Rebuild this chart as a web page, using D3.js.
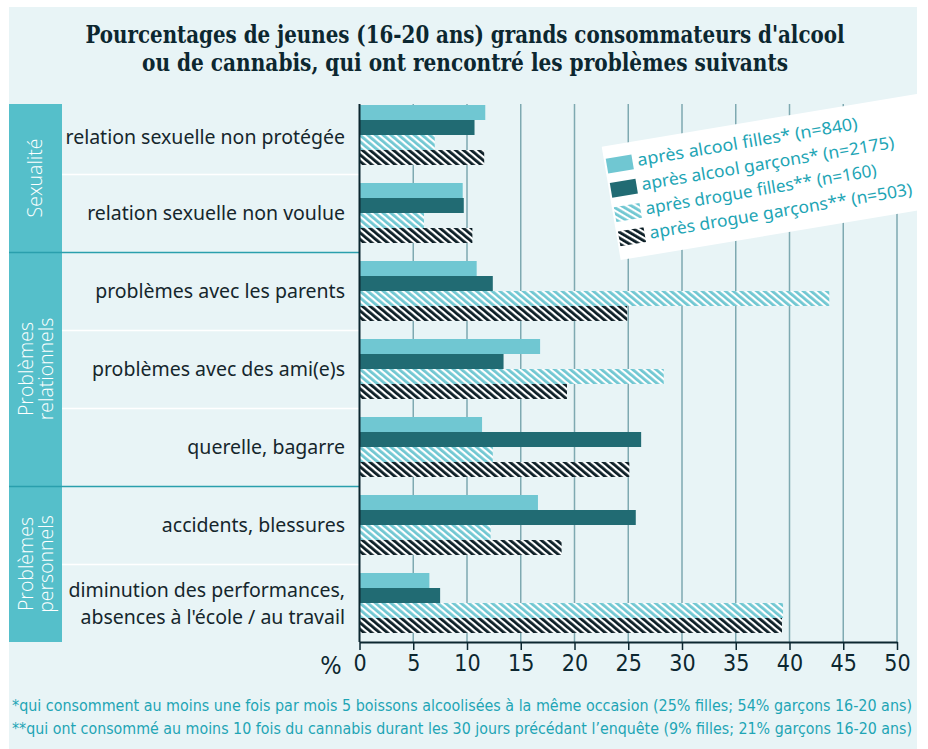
<!DOCTYPE html>
<html>
<head>
<meta charset="utf-8">
<script src="https://cdn.jsdelivr.net/npm/d3@7"></script>
<style>
  body { margin: 0; background: #ffffff; }
</style>
</head>
<body>
<script>
// base data
const categories = [
  'relation sexuelle non protégée',
  'relation sexuelle non voulue',
  'problèmes avec les parents',
  'problèmes avec des ami(e)s',
  'querelle, bagarre',
  'accidents, blessures',
  'diminution des performances,|absences à l\'école / au travail'
];
const categoryGroup = [0, 0, 1, 1, 1, 2, 2];
const groupLabels = [['Sexualité'], ['Problèmes', 'relationnels'], ['Problèmes', 'personnels']];

const series = ['alcoolFilles', 'alcoolGarcons', 'drogueFilles', 'drogueGarcons'];
const seriesLabels = [
  'après alcool filles*  (n=840)',
  'après alcool garçons*  (n=2175)',
  'après drogue filles**  (n=160)',
  'après drogue garçons**  (n=503)'
];
const alcoolFilles = [11.7, 9.6, 10.9, 16.8, 11.4, 16.6, 6.5];
const alcoolGarcons = [10.7, 9.7, 12.4, 13.4, 26.2, 25.7, 7.5];
const drogueFilles = [7.0, 6.0, 43.7, 28.3, 12.4, 12.2, 39.4];
const drogueGarcons = [11.6, 10.5, 24.9, 19.3, 25.1, 18.8, 39.3];
const values = { alcoolFilles, alcoolGarcons, drogueFilles, drogueGarcons };

const tickValues = [0, 5, 10, 15, 20, 25, 30, 35, 40, 45, 50];

const titleLines = [
  'Pourcentages de jeunes (16-20 ans) grands consommateurs d\'alcool',
  'ou de cannabis, qui ont rencontré les problèmes suivants'
];
const footnotes = [
  '*qui consomment au moins une fois par mois 5 boissons alcoolisées à la même occasion (25% filles; 54% garçons 16-20 ans)',
  '**qui ont consommé au moins 10 fois du cannabis durant les 30 jours précédant l\u2019enquête (9% filles; 21% garçons 16-20 ans)'
];

// constants
const width = 928;
const height = 749;
const plotTop = 104;
const plotBottom = 642;
const sideLeft = 9;
const sideRight = 62;

const colLight = '#70c7d2';
const colDark = '#216b73';
const colInk = '#0c2730';
const colTeal = '#1ea5b5';

// svg setting
const svg = d3.select('body').append('svg')
  .attr('width', width).attr('height', height);

// patterns for hatched bars
const defs = svg.append('defs');
const hatch = (id, color) => {
  const p = defs.append('pattern').attr('id', id)
    .attr('patternUnits', 'userSpaceOnUse')
    .attr('width', 5).attr('height', 10)
    .attr('patternTransform', 'rotate(-50)');
  p.append('rect').attr('width', 5).attr('height', 10).attr('fill', '#ffffff');
  p.append('rect').attr('width', 2.8).attr('height', 10).attr('fill', color);
};
hatch('hatchLight', colLight);
hatch('hatchDark', '#0b1d25');
const seriesFill = {
  alcoolFilles: colLight,
  alcoolGarcons: colDark,
  drogueFilles: 'url(#hatchLight)',
  drogueGarcons: 'url(#hatchDark)'
};

// background panel
svg.append('rect').attr('x', 9).attr('y', 7).attr('width', 908).attr('height', 742)
  .attr('fill', '#e8f4f6');

// scales
const xScale = d3.scaleLinear().domain([0, 50]).range([359.5, 897]);
const yScale = d3.scaleBand().domain(categories).range([96, 642]).padding(0);
const ySub = d3.scaleBand().domain(series).range([9, 69]).padding(0);

// title
svg.append('g').selectAll('text').data(titleLines).enter().append('text')
  .attr('x', 465).attr('y', (d, i) => 43 + i * 28)
  .attr('text-anchor', 'middle')
  .attr('font-family', '"DejaVu Serif Condensed", "Liberation Serif", serif')
  .attr('font-weight', 'bold').attr('font-size', 24)
  .attr('fill', colInk)
  .attr('textLength', (d, i) => i === 0 ? 759 : 646)
  .attr('lengthAdjust', 'spacingAndGlyphs')
  .text(d => d);

// side group boxes
svg.append('rect').attr('x', sideLeft).attr('y', plotTop)
  .attr('width', sideRight - sideLeft).attr('height', plotBottom - plotTop)
  .attr('fill', '#55bfca');

// row separators (white) and group separators (teal)
const rowSep = categories.slice(1).map((c, i) => ({ c, newGroup: categoryGroup[i + 1] !== categoryGroup[i] }));
svg.append('g').selectAll('line').data(rowSep).enter().append('line')
  .attr('x1', d => d.newGroup ? sideLeft : sideRight).attr('x2', xScale(0))
  .attr('y1', d => yScale(d.c) + 0.5).attr('y2', d => yScale(d.c) + 0.5)
  .attr('stroke', d => d.newGroup ? '#2a9fad' : '#ffffff')
  .attr('stroke-width', 1.5);

// group labels
groupLabels.forEach((lines, g) => {
  const rows = categories.filter((c, i) => categoryGroup[i] === g);
  const top = Math.max(plotTop, yScale(rows[0]));
  const bottom = yScale(rows[rows.length - 1]) + yScale.bandwidth();
  const cy = (top + bottom) / 2;
  const t = svg.append('text')
    .attr('transform', `translate(${lines.length === 1 ? 42 : 33}, ${cy}) rotate(-90)`)
    .attr('text-anchor', 'middle')
    .attr('font-family', '"Open Sans", "Noto Sans", sans-serif')
    .attr('font-weight', 300).attr('font-size', 19.5)
    .attr('fill', '#ffffff');
  lines.forEach((l, i) => {
    t.append('tspan').attr('x', 0).attr('y', i * 20).text(l);
  });
});

// category labels
const catLabel = svg.append('g').selectAll('text').data(categories).enter().append('text')
  .attr('text-anchor', 'end')
  .attr('font-family', '"Noto Sans", "Open Sans", sans-serif')
  .attr('font-size', 19.5)
  .attr('fill', '#15262c');
catLabel.each(function (d) {
  const parts = d.split('|');
  const cy = yScale(d) + yScale.bandwidth() / 2 + (d === categories[0] ? 2 : 0);
  parts.forEach((p, i) => {
    d3.select(this).append('tspan')
      .attr('x', 345)
      .attr('y', cy + 7 + (i - (parts.length - 1) / 2) * 27)
      .text(p);
  });
});

// gridlines
svg.append('g').selectAll('line').data(tickValues.slice(1)).enter().append('line')
  .attr('x1', d => xScale(d)).attr('x2', d => xScale(d))
  .attr('y1', plotTop).attr('y2', plotBottom)
  .attr('stroke', '#7ea9b1').attr('stroke-width', 1.5);

// draw bars
const rowG = svg.append('g').selectAll('g').data(categories).enter().append('g')
  .attr('transform', d => `translate(0, ${yScale(d)})`);
rowG.selectAll('rect').data((d, i) => series.map(s => ({ s, v: values[s][i] })))
  .enter().append('rect')
  .attr('x', xScale(0))
  .attr('y', d => ySub(d.s))
  .attr('width', d => xScale(d.v) - xScale(0))
  .attr('height', ySub.bandwidth())
  .attr('fill', d => seriesFill[d.s]);

// x axis
const xAxis = svg.append('g')
  .attr('transform', `translate(0, ${plotBottom})`)
  .call(d3.axisBottom(xScale).tickValues(tickValues).tickSize(8).tickPadding(5).tickSizeOuter(0));
xAxis.select('.domain').attr('stroke', colInk).attr('stroke-width', 2);
xAxis.selectAll('.tick line').attr('stroke', colInk).attr('stroke-width', 1.5);
xAxis.selectAll('.tick text')
  .attr('font-family', '"Liberation Sans Narrow", "DejaVu Sans Condensed", sans-serif')
  .attr('font-size', 23).attr('fill', colInk);

// y axis line
svg.append('line')
  .attr('x1', xScale(0)).attr('x2', xScale(0))
  .attr('y1', plotTop).attr('y2', plotBottom)
  .attr('stroke', colInk).attr('stroke-width', 2);

// percent sign
svg.append('text').attr('x', 331).attr('y', 674)
  .attr('text-anchor', 'middle')
  .attr('font-family', '"Liberation Sans Narrow", "DejaVu Sans Condensed", sans-serif')
  .attr('font-size', 25).attr('fill', colInk)
  .text('%');

// legend
const legend = svg.append('g').attr('transform', 'translate(601.7, 146.7) rotate(-9.5)');
legend.append('rect').attr('width', 330).attr('height', 115).attr('fill', '#ffffff');
const legItem = legend.selectAll('g').data(series).enter().append('g')
  .attr('transform', (d, i) => `translate(0, ${12.5 + i * 24.6})`);
legItem.append('rect').attr('x', 2).attr('width', 26).attr('height', 15)
  .attr('fill', d => seriesFill[d]);
legItem.append('text').attr('x', 33).attr('y', 12.5)
  .attr('font-family', '"Noto Sans", "Open Sans", sans-serif')
  .attr('font-size', 17).attr('fill', colTeal)
  .attr('textLength', (d, i) => [223, 256, 234, 266][i])
  .attr('lengthAdjust', 'spacingAndGlyphs')
  .text((d, i) => seriesLabels[i]);

// footnotes
svg.append('g').selectAll('text').data(footnotes).enter().append('text')
  .attr('x', 12).attr('y', (d, i) => 711 + i * 23)
  .attr('font-family', '"Liberation Sans Narrow", "DejaVu Sans Condensed", sans-serif')
  .attr('font-size', 15.5).attr('fill', colTeal)
  .attr('textLength', 900)
  .attr('lengthAdjust', 'spacingAndGlyphs')
  .text(d => d);
</script>
</body>
</html>
